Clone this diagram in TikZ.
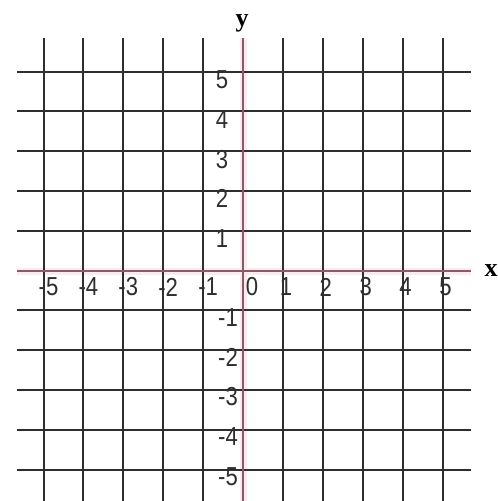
\documentclass[tikz,border=0pt]{standalone}
\usepackage{fontspec}
\newfontfamily\ticksfont[FakeStretch=0.85]{Liberation Sans}
\newfontfamily\axfont{Liberation Serif}
\definecolor{gridc}{HTML}{2E2E2E}
\definecolor{axisc}{HTML}{8A5A68}
\definecolor{halo}{HTML}{FBEAEE}
\newcommand{\ticksize}{\fontsize{26}{26}\selectfont}
\newcommand{\axsize}{\fontsize{26}{26}\selectfont}
\begin{document}
\begin{tikzpicture}[x=1pt,y=-1pt,
  gridline/.style={draw=gridc,line width=2pt},
  axisline/.style={draw=axisc,line width=1.6pt},
  haloline/.style={draw=halo,line width=7pt},
  ticklab/.style={inner sep=0pt,text=gridc},
  axlab/.style={inner sep=0pt}]
\useasboundingbox (0,0) rectangle (498,501);
\fill[white] (0,0) rectangle (498,501);
% halo of axes
\draw[haloline] (17,271) -- (471,271);
\draw[haloline] (243,38) -- (243,501);
% vertical grid lines
\foreach \k in {-5,-4,-3,-2,-1,1,2,3,4,5}{
  \draw[gridline] (243+39.9*\k,38) -- (243+39.9*\k,501);
}
% horizontal grid lines
\foreach \k in {-5,-4,-3,-2,-1,1,2,3,4,5}{
  \draw[gridline] (17,270.5-39.8*\k) -- (471,270.5-39.8*\k);
}
% axes
\coordinate (xl) at (17,271);
\coordinate (xr) at (471,271);
\coordinate (yt) at (243,38);
\coordinate (yb) at (243,501);
\draw[axisline] (xl) -- (xr);
\draw[axisline] (yt) -- (yb);
% axis names
\node[axlab] (ylab) at (242,23) {\axfont\axsize\bfseries y};
\node[axlab] (xlab) at (491,271) {\axfont\axsize\bfseries x};
% x tick labels
\foreach \k in {1,2,3,4,5}{
  \node[ticklab] (xn\k) at (243-39.9*\k+5,287) {\ticksfont\ticksize -\k};
  \node[ticklab] (xp\k) at (243+39.9*\k+3,287) {\ticksfont\ticksize \k};
}
\node[ticklab] (x0) at (252,287) {\ticksfont\ticksize 0};
% y tick labels
\foreach \k in {1,2,3,4,5}{
  \node[ticklab] (yp\k) at (222,270.5-39.8*\k+8) {\ticksfont\ticksize \k};
  \node[ticklab] (yn\k) at (228,270.5+39.8*\k+7) {\ticksfont\ticksize -\k};
}
\end{tikzpicture}
\end{document}
